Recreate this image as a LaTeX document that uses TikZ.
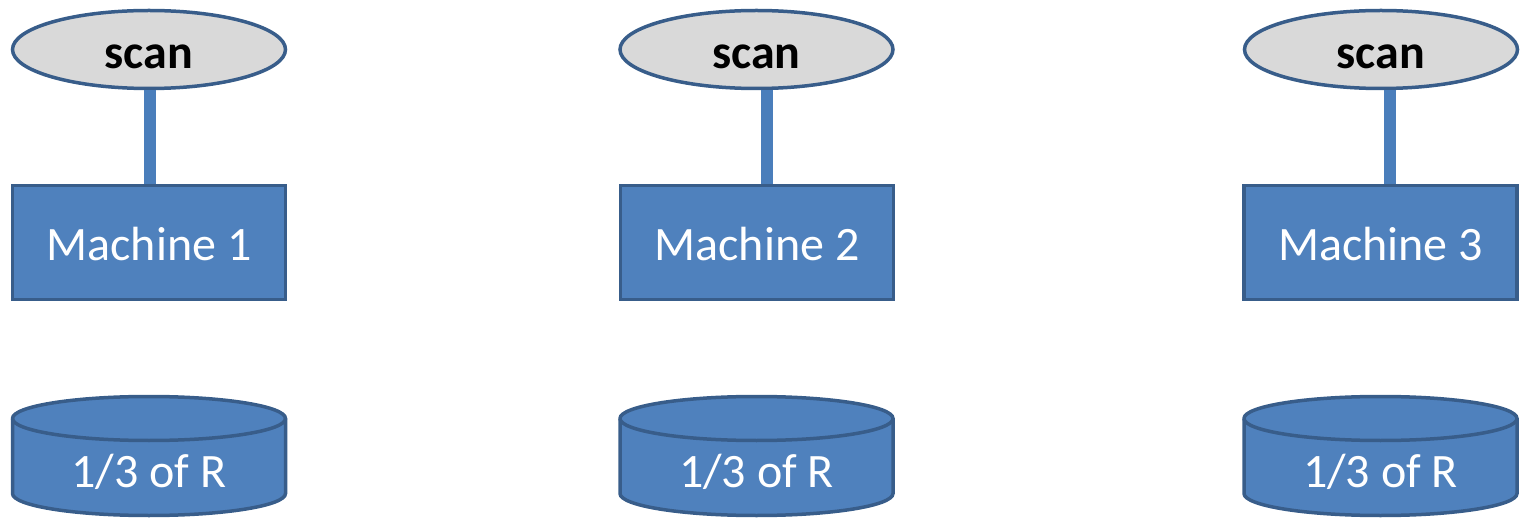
\documentclass[tikz,border=0pt]{standalone}
\usepackage{fontspec}
\setmainfont{Carlito}
\usetikzlibrary{shapes.geometric}
\definecolor{boxfill}{HTML}{4F81BD}
\definecolor{boxline}{HTML}{385D8A}
\definecolor{opfill}{HTML}{D9D9D9}
\definecolor{linkcol}{HTML}{4A7EBB}
\tikzset{
  opnode/.style={ellipse, draw=boxline, fill=opfill, line width=3.5pt, inner sep=0pt,
    minimum width=273pt, minimum height=78pt, font=\fontsize{48}{50}\selectfont\bfseries,
    text=black, text height=38pt, text depth=0pt},
  machine/.style={rectangle, draw=boxline, fill=boxfill, line width=3.5pt, inner sep=0pt,
    minimum width=273pt, minimum height=114pt, font=\fontsize{48}{50}\selectfont,
    text=white, text height=36pt, text depth=0pt},
  disklabel/.style={inner sep=0pt, font=\fontsize{48}{50}\selectfont,
    text=white, text height=35pt, text depth=0pt},
  disk/.style={draw=boxline, fill=boxfill, line width=3.5pt},
  link/.style={draw=linkcol, line width=12pt}
}
\begin{document}
\begin{tikzpicture}[x=1pt,y=-1pt]
\useasboundingbox (0,0) rectangle (1521,521);
% operators
\node[opnode] (s1) at (149,49.5) {scan};
\node[opnode] (s2) at (756.5,49.5) {scan};
\node[opnode] (s3) at (1381,49.5) {scan};
% machines
\node[machine] (m1) at (149,242.5) {Machine 1};
\node[machine] (m2) at (757,242.5) {Machine 2};
\node[machine] (m3) at (1380.5,242.5) {Machine 3};
% links
\draw[link] ([xshift=1pt]s1.south) -- ([xshift=1pt]m1.north);
\draw[link] ([xshift=10.5pt]s2.south) -- ([xshift=10pt]m2.north);
\draw[link] ([xshift=9pt]s3.south) -- ([xshift=9.5pt]m3.north);
% disks
\foreach \cx in {149,756.5,1380.5}{
  \path[disk] (\cx-136.5,418.5) -- (\cx-136.5,493.5) arc[start angle=180,end angle=360,x radius=136.5pt,y radius=22pt]
     -- (\cx+136.5,418.5) arc[start angle=0,end angle=180,x radius=136.5pt,y radius=22pt] -- cycle;
  \draw[boxline,line width=3.5pt] (\cx+136.5,418.5) arc[start angle=0,end angle=-180,x radius=136.5pt,y radius=22pt];
}
\node[disklabel] (d1) at (149,469.5) {1/3 of R};
\node[disklabel] (d2) at (756.5,469.5) {1/3 of R};
\node[disklabel] (d3) at (1380.5,469.5) {1/3 of R};
\end{tikzpicture}
\end{document}
